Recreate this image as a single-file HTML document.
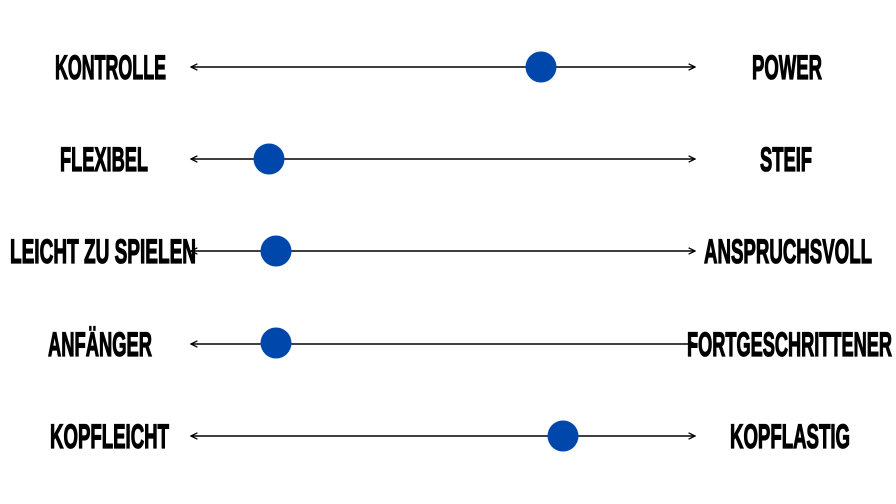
<!DOCTYPE html>
<html><head><meta charset="utf-8"><style>
html,body{margin:0;padding:0;background:#fff;}
svg{display:block;}
text{font-family:"Liberation Sans Narrow","Liberation Sans",sans-serif;font-weight:bold;font-size:34px;fill:#000;stroke:#000;stroke-width:1.3px;}
</style></head><body>
<svg width="896" height="504" viewBox="0 0 896 504" xmlns="http://www.w3.org/2000/svg">
<defs>
<marker id="a" viewBox="0 0 10 10" refX="9" refY="5" markerWidth="8" markerHeight="8" orient="auto-start-reverse" markerUnits="userSpaceOnUse">
<path d="M1,1 L9,5 L1,9" fill="none" stroke="#000" stroke-width="1.6"/>
</marker>
</defs>
<g stroke="#000" stroke-width="1.6" fill="none">
<line x1="191" y1="67" x2="695" y2="67" marker-start="url(#a)" marker-end="url(#a)"/>
<line x1="191" y1="159" x2="695" y2="159" marker-start="url(#a)" marker-end="url(#a)"/>
<line x1="191" y1="251" x2="695" y2="251" marker-start="url(#a)" marker-end="url(#a)"/>
<line x1="191" y1="344" x2="695" y2="344" marker-start="url(#a)" marker-end="url(#a)"/>
<line x1="191" y1="436" x2="695" y2="436" marker-start="url(#a)" marker-end="url(#a)"/>
</g>
<g fill="#0047ab">
<circle cx="541" cy="67" r="15.5"/>
<circle cx="269" cy="159" r="15.5"/>
<circle cx="276" cy="251" r="15.5"/>
<circle cx="276" cy="343" r="15.5"/>
<circle cx="563" cy="436" r="15.5"/>
</g>
<text x="55" y="79" textLength="111" lengthAdjust="spacingAndGlyphs">KONTROLLE</text>
<text x="60" y="171" textLength="88" lengthAdjust="spacingAndGlyphs">FLEXIBEL</text>
<text x="10" y="263" textLength="186" lengthAdjust="spacingAndGlyphs">LEICHT ZU SPIELEN</text>
<text x="48" y="356" textLength="104" lengthAdjust="spacingAndGlyphs">ANFÄNGER</text>
<text x="50" y="448" textLength="119" lengthAdjust="spacingAndGlyphs">KOPFLEICHT</text>
<text x="752" y="79" textLength="70" lengthAdjust="spacingAndGlyphs">POWER</text>
<text x="760" y="171" textLength="52" lengthAdjust="spacingAndGlyphs">STEIF</text>
<text x="704" y="263" textLength="168" lengthAdjust="spacingAndGlyphs">ANSPRUCHSVOLL</text>
<text x="687" y="356" textLength="205" lengthAdjust="spacingAndGlyphs">FORTGESCHRITTENER</text>
<text x="730" y="448" textLength="120" lengthAdjust="spacingAndGlyphs">KOPFLASTIG</text>
</svg>
</body></html>
